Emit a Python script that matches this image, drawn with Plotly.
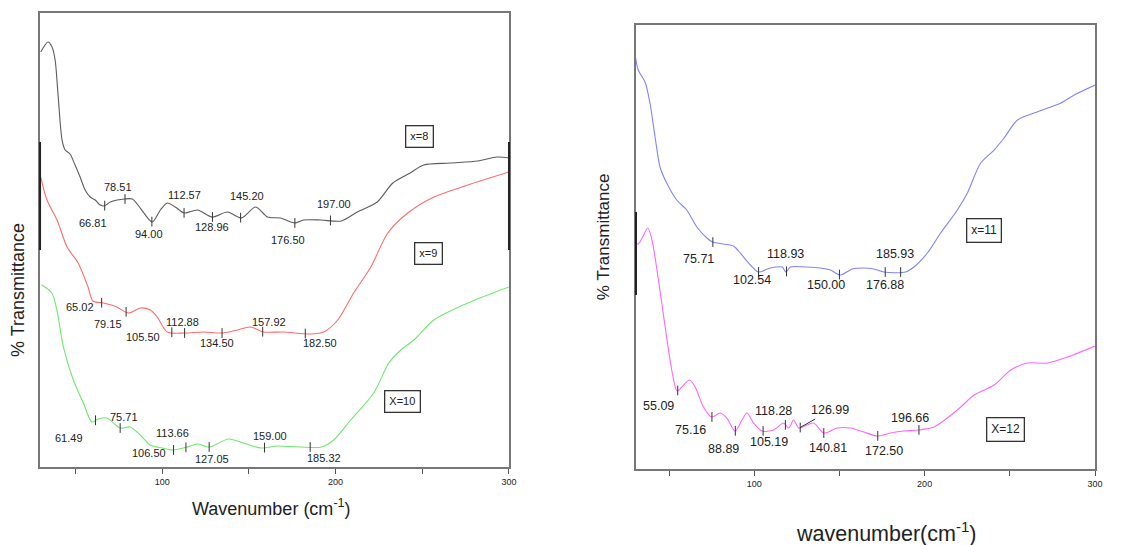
import numpy as np
import plotly.graph_objects as go

# ---------------- data (arbitrary transmittance units) ----------------
wn_x8 = [29.9, 34.1, 36.4, 38.2, 39.9, 42.2, 44.0, 46.8, 49.7, 52.6, 55.5, 58.4, 61.3, 64.2, 66.5,
         70.0, 74.0, 78.1, 82.7, 87.3, 94.2, 98.9, 102.9, 107.5, 112.7, 120.3, 128.9, 137.6, 145.7,
         153.8, 160.7, 168.2, 176.3, 181.5, 191.4, 203.3, 212.5, 224.0, 233.0, 243.0, 250.8, 266.0,
         282.0, 293.0, 300.0]
t_x8 = [415, 425, 420, 407, 372, 327, 317, 313, 302, 290, 277, 270, 267, 262, 261,
        265, 267, 268, 268, 259, 245, 257, 264, 260, 254, 257, 250, 255, 249,
        260, 250, 249, 244, 247, 247, 246, 255, 265, 284, 294, 302, 304,
        306, 310, 309]
peaks_x8 = [66.81, 78.51, 94.00, 112.57, 128.96, 145.20, 176.50, 197.00]

wn_x9 = [29.9, 33.5, 39.3, 45.1, 51.5, 57.2, 60.0, 66.0, 73.8, 80.5, 87.3, 93.1, 97.1, 102.9, 113.3,
         123.7, 134.7, 143.4, 150.9, 158.4, 169.9, 185.6, 193.1, 201.2, 210.4, 220.3, 230.1, 241.6,
         256.7, 276.3, 300.0]
t_x9 = [290, 267, 247, 220, 204, 180, 166, 164, 160, 154, 159, 157, 150, 135, 134,
        135, 134, 137, 140, 135, 135, 133, 135, 147, 174, 200, 234, 254,
        270, 282, 295]
peaks_x9 = [65.02, 79.15, 105.50, 112.88, 134.50, 157.92, 182.50]

wn_x10 = [30.5, 36.3, 39.2, 43.0, 48.7, 54.5, 59.4, 63.0, 68.1, 75.7, 81.5, 87.3, 93.1, 100.0, 106.4,
          114.5, 120.3, 127.2, 138.2, 146.8, 157.2, 166.5, 179.8, 191.9, 198.9, 208.7, 222.0, 230.7,
          237.6, 245.1, 256.7, 276.3, 300.0]
t_x10 = [182, 174, 157, 120, 87, 64, 45, 48, 49, 39, 40, 32, 22, 19, 17,
         20, 23, 20, 28, 24, 19, 21, 20, 20, 27, 47, 74, 104,
         117, 127, 147, 164, 180]
peaks_x10 = [61.49, 75.71, 106.50, 113.66, 127.05, 159.00, 185.32]

wn_x11 = [30.4, 31.9, 35.9, 38.8, 41.8, 44.7, 48.6, 54.5, 60.4, 66.3, 72.2, 75.5, 81.9, 87.8, 91.8,
          96.7, 102.5, 109.4, 116.3, 118.6, 121.2, 131.0, 138.8, 144.7, 150.6, 157.5, 164.3, 170.2,
          176.1, 188.8, 193.7, 201.6, 209.4, 219.2, 225.1, 232.9, 240.8, 246.6, 254.5, 264.3, 272.2,
          280.0, 287.8, 300.0]
t_x11 = [411, 399, 387, 366, 332, 302, 286, 269, 259, 242, 231, 227, 225, 223, 216,
         206, 197, 201, 202, 197, 202, 202, 201, 199, 194, 200, 201, 200,
         197, 197, 202, 216, 236, 259, 276, 306, 319, 331, 349, 356, 361,
         366, 374, 384]
peaks_x11 = [75.71, 102.54, 118.93, 150.00, 176.88, 185.93]

wn_x12 = [30.4, 31.9, 34.5, 37.5, 40.0, 42.9, 45.9, 48.8, 51.8, 54.7, 57.5, 62.0, 65.3, 70.2, 75.1,
          80.0, 83.9, 88.8, 92.8, 95.7, 99.6, 104.5, 111.4, 117.2, 120.2, 123.1, 126.1, 131.0, 134.9,
          140.8, 148.6, 156.5, 164.3, 172.2, 180.0, 187.8, 196.3, 205.5, 213.3, 221.2, 229.0, 240.8,
          250.6, 260.4, 272.2, 283.9, 300.0]
t_x12 = [226, 225, 232, 241, 229, 199, 164, 129, 97, 78, 82, 89, 82, 62, 52,
         56, 51, 38, 49, 56, 46, 38, 39, 46, 41, 49, 41, 44, 46,
         36, 41, 41, 37, 33, 36, 38, 39, 42, 51, 62, 74, 84,
         99, 106, 106, 112, 123]
peaks_x12 = [55.09, 75.16, 88.89, 105.19, 118.28, 126.99, 140.81, 172.50, 196.66]

xtick_major = [100, 200, 300]
xtick_minor = [50, 150, 250]

# ---------------- styling / label placement (pixel offsets) ----------------
FONT = "Arial, Liberation Sans, sans-serif"
HX = 1.0072  # horizontal compensation for the capture
off_x8 = [(-12, -17), (-7, 12), (-3, -12), (0, 18), (0, -10), (6, 22), (-7, -17), (4, 16)]
off_x9 = [(-22, -4), (-18, -12), (-29, -5), (-2, 11), (-5, -10), (6, 10), (15, -9)]
off_x10 = [(-27, -18), (4, 11), (-25, -3), (-13, 14), (3, -12), (5, 12), (14, -11)]
off_x11 = [(-14, -17), (-7, -8), (-1, 17), (-13, -10), (0, -13), (-6, 18)]
off_x12 = [(-19, -16), (-21, -13), (-12, -18), (6, -11), (-12, 14), None, (4, -15), (6, -15), (-9, 12)]

series = [
    dict(wn=wn_x8, t=t_x8, peaks=peaks_x8, off=off_x8, color="#5c5c5c", ax="x", ay="y", fs=11),
    dict(wn=wn_x9, t=t_x9, peaks=peaks_x9, off=off_x9, color="#ff6b6b", ax="x", ay="y", fs=11),
    dict(wn=wn_x10, t=t_x10, peaks=peaks_x10, off=off_x10, color="#6fe86f", ax="x", ay="y", fs=11),
    dict(wn=wn_x11, t=t_x11, peaks=peaks_x11, off=off_x11, color="#8282ff", ax="x2", ay="y2", fs=12.5),
    dict(wn=wn_x12, t=t_x12, peaks=peaks_x12, off=off_x12, color="#ff66ff", ax="x2", ay="y2", fs=12.5),
]

fig = go.Figure()
annotations = []
for s in series:
    fig.add_trace(go.Scatter(x=s["wn"], y=s["t"], mode="lines", xaxis=s["ax"], yaxis=s["ay"],
                             line=dict(color=s["color"], width=1.1, shape="spline", smoothing=0.8),
                             hoverinfo="skip", showlegend=False))
    py = np.interp(s["peaks"], s["wn"], s["t"])
    fig.add_trace(go.Scatter(x=s["peaks"], y=py, mode="markers", xaxis=s["ax"], yaxis=s["ay"],
                             marker=dict(symbol="line-ns", size=7, line=dict(width=1, color="#333333")),
                             hoverinfo="skip", showlegend=False))
    for p, yv, o in zip(s["peaks"], py, s["off"]):
        if o is None:
            annotations.append(dict(x=p, y=yv, xref=s["ax"], yref=s["ay"], text=f"{p:.2f}",
                                    showarrow=True, arrowhead=0, arrowwidth=1, arrowcolor="#333333",
                                    ax=30, ay=-17, standoff=0,
                                    font=dict(family=FONT, size=s["fs"], color="#222222")))
        else:
            annotations.append(dict(x=p, y=yv, xref=s["ax"], yref=s["ay"], text=f"{p:.2f}",
                                    showarrow=False, xshift=o[0], yshift=o[1],
                                    xanchor="center", yanchor="middle",
                                    font=dict(family=FONT, size=s["fs"], color="#222222")))

# boxed series labels
boxes = [("x=8", "x", "y", 248.6, 331, 11), ("x=9", "x", "y", 253.8, 214, 11),
         ("X=10", "x", "y", 238.8, 66, 11), ("x=11", "x2", "y2", 234.9, 239, 12),
         ("X=12", "x2", "y2", 247.6, 40, 12)]
for txt, xr, yr, bx, by, fs in boxes:
    annotations.append(dict(x=bx, y=by, xref=xr, yref=yr, text=txt, showarrow=False,
                            xanchor="center", yanchor="middle",
                            bordercolor="#333333", borderwidth=1.3, borderpad=4, bgcolor="white",
                            font=dict(family=FONT, size=fs, color="#222222")))

# axis titles
annotations += [
    dict(x=0.2411 * HX, y=0.068, xref="paper", yref="paper", text="Wavenumber (cm<sup>-1</sup>)",
         xanchor="center", yanchor="middle",
         showarrow=False, font=dict(family=FONT, size=18, color="#222222")),
    dict(x=0.7855 * HX, y=0.0245, xref="paper", yref="paper", text="wavenumber(cm<sup>-1</sup>)",
         xanchor="center", yanchor="middle",
         showarrow=False, font=dict(family=FONT, size=21.5, color="#222222")),
    dict(x=0.016 * HX, y=0.468, xref="paper", yref="paper", text="% Transmittance", textangle=-90,
         xanchor="center", yanchor="middle",
         showarrow=False, font=dict(family=FONT, size=18, color="#222222")),
    dict(x=0.5346 * HX, y=0.565, xref="paper", yref="paper", text="% Transmittance", textangle=-90,
         xanchor="center", yanchor="middle",
         showarrow=False, font=dict(family=FONT, size=17, color="#222222")),
]

xax = dict(range=[29.5, 300], tickvals=xtick_major, ticks="outside", ticklen=5,
           tickcolor="#555555", tickfont=dict(family=FONT, size=9, color="#222222"),
           minor=dict(tickvals=xtick_minor, ticks="outside", ticklen=5, tickcolor="#555555"),
           showline=True, mirror=True, linecolor="#777777", linewidth=1.5, showgrid=False,
           zeroline=False)
yax = dict(showticklabels=False, ticks="", showline=True, mirror=True, linecolor="#777777",
           linewidth=1.5, showgrid=False, zeroline=False)

fig.update_layout(
    width=1128, height=545, margin=dict(l=0, r=0, t=0, b=0),
    paper_bgcolor="white", plot_bgcolor="white",
    xaxis=dict(xax, domain=[0.0355 * HX, 0.4512 * HX], anchor="y"),
    yaxis=dict(yax, domain=[0.1431, 0.9761], range=[0, 454], anchor="x"),
    xaxis2=dict(xax, domain=[0.5638 * HX, 0.9707 * HX], range=[30.6, 300], anchor="y2"),
    yaxis2=dict(yax, domain=[0.1394, 0.9541], range=[0, 444], anchor="x2"),
    annotations=annotations,
    shapes=[
        dict(type="line", xref="x domain", yref="y domain", x0=0, x1=0, y0=0.478, y1=0.716,
             line=dict(color="#222222", width=2)),
        dict(type="line", xref="x domain", yref="y domain", x0=1, x1=1, y0=0.478, y1=0.716,
             line=dict(color="#222222", width=2)),
        dict(type="line", xref="x2 domain", yref="y2 domain", x0=0, x1=0, y0=0.392, y1=0.579,
             line=dict(color="#222222", width=2)),
    ],
)

fig.write_html("out.html", config={"displayModeBar": False})

# remove the browser's default page margin so the figure sits at the window origin
with open("out.html", "r", encoding="utf-8") as f:
    html = f.read()
html = html.replace("<head>", "<head><style>html,body{margin:0;padding:0;overflow:hidden;}</style>", 1)
with open("out.html", "w", encoding="utf-8") as f:
    f.write(html)
